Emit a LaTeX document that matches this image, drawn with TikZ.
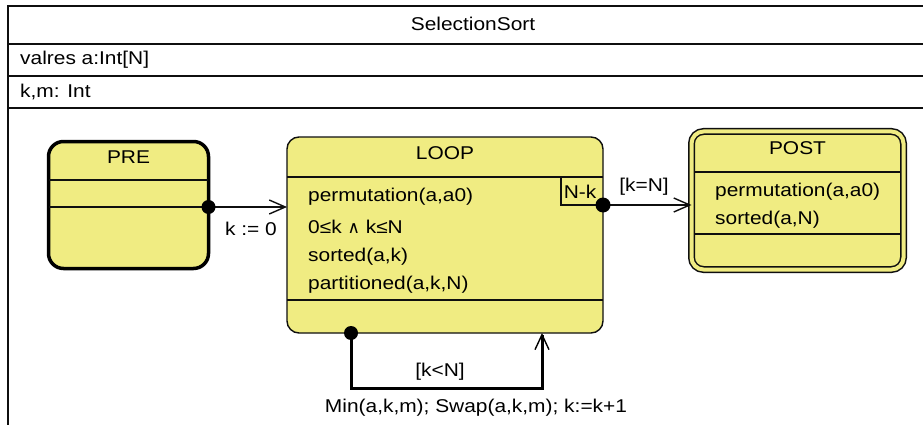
\documentclass[tikz,border=0pt]{standalone}
\usepackage{fontspec}
\setmainfont{Liberation Sans}[FakeStretch=1.13]
\newfontfamily\symfont{DejaVu Sans}
\usetikzlibrary{arrows.meta}
\definecolor{statefill}{RGB}{240,236,130}
\definecolor{ink}{RGB}{15,15,15}

\tikzset{
  frameline/.style={draw=ink, line width=1.6pt},
  sepline/.style={draw=ink, line width=1.4pt},
  txt/.style={inner sep=0pt, text=black},
  initstate/.style={draw=black, fill=statefill, line width=3.5pt, rounded corners=15pt,
    minimum width=160pt, minimum height=127pt, outer sep=0pt, inner sep=0pt},
  loopstate/.style={draw=ink, fill=statefill, line width=1.4pt, rounded corners=12pt,
    minimum width=316pt, minimum height=196pt, outer sep=0pt, inner sep=0pt},
  finalstate/.style={draw=ink, fill=statefill, double=statefill, double distance=4pt,
    line width=1.5pt, rounded corners=12pt,
    minimum width=212pt, minimum height=138pt, outer sep=0pt, inner sep=0pt},
  port/.style={fill=black},
  trans/.style={draw=ink, line width=1.4pt,
    -{Straight Barb[length=16pt, width=14pt, line width=1.4pt]}},
  selftrans/.style={draw=black, line width=3pt,
    -{Straight Barb[length=15pt, width=14pt, line width=1.4pt]}},
}

\begin{document}
\begin{tikzpicture}[x=1pt, y=-1pt, font=\fontsize{18.5}{21}\selectfont]
\useasboundingbox (0,0) rectangle (923,425);
\clip (0,0) rectangle (923,425);
\fill[white] (0,0) rectangle (923,425);

% enclosing class frame with its compartments
\draw[frameline] (8,6) rectangle (960,460);
\draw[frameline] (8,44) -- (960,44);
\draw[frameline] (8,76) -- (960,76);
\draw[frameline] (8,108) -- (960,108);
\node[txt] (title) at (473,24) {SelectionSort};
\node[txt, anchor=west] (attr1) at (20,60) {valres a:Int[N]};
\node[txt, anchor=west] (attr2) at (20,92) {k,m: Int};

% PRE state
\node[initstate] (pre) at (128.5,205) {};
\node[txt] (preT) at (128.5,157) {PRE};
\draw[sepline] (49,180) -- (208,180);
\draw[sepline] (49,207) -- (208,207);

% LOOP state
\node[loopstate] (loop) at (445,235) {};
\node[txt] (loopT) at (445,153) {LOOP};
\draw[sepline] (287,177) -- (603,177);
\draw[sepline] (287,300) -- (603,300);
\node[txt, anchor=west] (inv1) at (308,197) {permutation(a,a0)};
\node[txt, anchor=west] (inv2) at (308,227) {0≤k {\symfont\fontsize{17}{20}\selectfont ∧} k≤N};
\node[txt, anchor=west] (inv3) at (308,257) {sorted(a,k)};
\node[txt, anchor=west] (inv4) at (308,285) {partitioned(a,k,N)};
\draw[sepline] (561,177) -- (561,205) -- (603,205);
\node[txt] (variant) at (580,192) {N-k};

% POST state
\node[finalstate] (post) at (797.5,200.5) {};
\node[txt] (postT) at (797.5,148) {POST};
\draw[sepline] (695,172) -- (900,172);
\draw[sepline] (695,234) -- (900,234);
\node[txt, anchor=west] (post1) at (715,192) {permutation(a,a0)};
\node[txt, anchor=west] (post2) at (715,220) {sorted(a,N)};

% transition ports
\coordinate (preout) at (208.5,207);
\coordinate (loopin) at (287,207);
\coordinate (loopout) at (603,205);
\coordinate (postin) at (691.5,205);
\coordinate (selfout) at (351,333);
\coordinate (selfbot) at (446,388);
\coordinate (selfin) at (542,333);

% transitions
\draw[trans] (preout) -- (loopin);
\node[txt] (initlbl) at (251,229) {k := 0};
\draw[trans] (loopout) -- (postin);
\node[txt] (donelbl) at (644,187) {[k=N]};
\draw[selftrans] (selfout) |- (selfbot) -| (selfin);
\node[txt] (guardlbl) at (440,372) {[k<N]};
\node[txt] (actlbl) at (476,408) {Min(a,k,m); Swap(a,k,m); k:=k+1};

\fill[port] (preout) circle (7);
\fill[port] (loopout) circle (7.5);
\fill[port] (selfout) circle (7);
\end{tikzpicture}
\end{document}
